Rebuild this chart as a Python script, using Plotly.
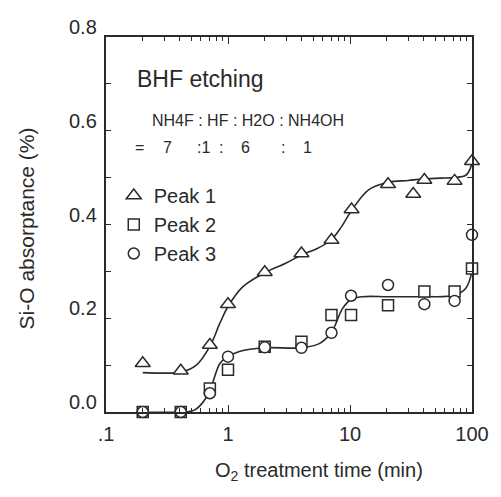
import plotly.graph_objects as go

# ---- data ----
time_pts = [0.2, 0.41, 0.71, 1.0, 2.0, 4.0, 7.05, 10.3, 20.5, 33.0, 40.7, 72.0, 100.0]
peak1 = [0.104, 0.088, 0.143, 0.230, 0.298, 0.338, 0.367, 0.432, 0.486, 0.465, 0.495, 0.493, 0.535]

time_pts23 = [0.2, 0.41, 0.71, 1.0, 2.0, 4.0, 7.05, 10.2, 20.5, 40.7, 72.0, 100.0]
peak2 = [0.0, 0.0, 0.050, 0.090, 0.139, 0.150, 0.207, 0.207, 0.228, 0.257, 0.257, 0.306]
peak3 = [0.0, 0.0, 0.040, 0.118, 0.138, 0.137, 0.169, 0.248, 0.271, 0.230, 0.237, 0.378]

# hand-drawn guide curves
curve1_t = [0.2, 0.3, 0.41, 0.55, 0.71, 0.86, 1.0, 1.32, 2.0, 3.0, 4.0, 5.5, 7.0, 8.5, 10.3, 14.2, 20.5, 30, 40, 55, 72, 89, 97, 100]
curve1_v = [0.084, 0.083, 0.085, 0.100, 0.140, 0.190, 0.225, 0.267, 0.297, 0.318, 0.335, 0.350, 0.367, 0.395, 0.430, 0.474, 0.490, 0.494, 0.497, 0.499, 0.500, 0.505, 0.520, 0.535]
curve2_t = [0.2, 0.41, 0.53, 0.62, 0.71, 0.86, 1.0, 1.24, 2.0, 4.0, 5.7, 7.05, 8.7, 10.2, 12.6, 20.5, 40.7, 72, 89, 100]
curve2_v = [0.0, 0.0, 0.004, 0.020, 0.045, 0.104, 0.118, 0.129, 0.137, 0.137, 0.147, 0.170, 0.221, 0.240, 0.246, 0.246, 0.246, 0.249, 0.264, 0.300]

x_major_ticks = [0.1, 1, 10, 100]
x_major_labels = [".1", "1", "10", "100"]
y_ticks = [0.0, 0.1, 0.2, 0.3, 0.4, 0.5, 0.6, 0.7, 0.8]
y_label_vals = [0.0, 0.2, 0.4, 0.6, 0.8]
y_label_text = ["0.0", "0.2", "0.4", "0.6", "0.8"]

ratio_names = ["=", "7", ":1", ":", "6", ":", "1"]
ratio_xpx = [141, 169, 206, 224, 250, 288, 314]

INK = "#2a2a2a"
FONT = "Liberation Sans, Arial, Helvetica, sans-serif"

L, R, T, B = 106, 18, 37, 85
W, H = 501, 497
PW, PH = W - L - R, H - T - B


def px2paper_x(px):
    return (px - L) / PW


def px2paper_y(py):
    return (H - B - py) / PH


fig = go.Figure()

fig.add_trace(go.Scatter(x=curve1_t, y=curve1_v, mode="lines", line=dict(color=INK, width=1.6, shape="spline", smoothing=1.0),
                         showlegend=False, hoverinfo="skip"))
fig.add_trace(go.Scatter(x=curve2_t, y=curve2_v, mode="lines", line=dict(color=INK, width=1.6, shape="spline", smoothing=1.0),
                         showlegend=False, hoverinfo="skip"))

fig.add_trace(go.Scatter(x=time_pts, y=peak1, mode="markers", name="Peak 1", cliponaxis=False,
                         marker=dict(symbol="triangle-up", size=13, color="white", line=dict(color=INK, width=1.5))))
fig.add_trace(go.Scatter(x=time_pts23, y=peak2, mode="markers", name="Peak 2", cliponaxis=False,
                         marker=dict(symbol="square", size=11, color="white", line=dict(color=INK, width=1.5))))
fig.add_trace(go.Scatter(x=time_pts23, y=peak3, mode="markers", name="Peak 3", cliponaxis=False,
                         marker=dict(symbol="circle", size=11, color="white", line=dict(color=INK, width=1.5))))

minor_x = [m * 10 ** k for k in (-1, 0, 1) for m in range(2, 10)]

fig.update_xaxes(type="log", range=[-1, 2], showline=True, linecolor=INK, linewidth=1.6, mirror="ticks",
                 ticks="inside", ticklen=7, tickwidth=1.2, tickcolor=INK,
                 tickvals=x_major_ticks, ticktext=x_major_labels, ticklabelstandoff=3,
                 tickfont=dict(family=FONT, size=20, color=INK),
                 minor=dict(tickvals=minor_x, ticks="inside", ticklen=4, tickwidth=1.2, tickcolor=INK),
                 showgrid=False, zeroline=False)
fig.update_yaxes(range=[0, 0.8], showline=True, linecolor=INK, linewidth=1.6, mirror="ticks",
                 ticks="inside", ticklen=5, tickwidth=1.2, tickcolor=INK,
                 tickvals=y_ticks, showticklabels=False, showgrid=False, zeroline=False)

ann = []
for v, t in zip(y_label_vals, y_label_text):
    ann.append(dict(x=0, xref="paper", y=v, yref="y", text=t, showarrow=False, xanchor="right", yanchor="middle",
                    xshift=-7, yshift=10, font=dict(family=FONT, size=20, color=INK)))

ann.append(dict(x=px2paper_x(24), y=px2paper_y(228), xref="paper", yref="paper", text="Si-O absorptance (%)",
                textangle=-90, showarrow=False, xanchor="center", yanchor="middle",
                font=dict(family=FONT, size=21, color=INK)))
ann.append(dict(x=px2paper_x(325), y=px2paper_y(472), xref="paper", yref="paper",
                text="O<sub>2</sub> treatment time (min)", showarrow=False, xanchor="center", yanchor="middle",
                font=dict(family=FONT, size=20, color=INK)))
ann.append(dict(x=px2paper_x(136), y=px2paper_y(79), xref="paper", yref="paper", text="BHF etching",
                xanchor="left", yanchor="middle", showarrow=False, font=dict(family=FONT, size=23, color=INK)))
ann.append(dict(x=px2paper_x(151), y=px2paper_y(120), xref="paper", yref="paper",
                text="NH4F : HF : H2O : NH4OH", xanchor="left", yanchor="middle", showarrow=False,
                font=dict(family=FONT, size=16, color=INK)))
for txt, xp in zip(ratio_names, ratio_xpx):
    ann.append(dict(x=px2paper_x(xp), y=px2paper_y(147), xref="paper", yref="paper", text=txt,
                    xanchor="center", yanchor="middle",
                    showarrow=False, font=dict(family=FONT, size=16, color=INK)))

fig.update_layout(
    width=W, height=H, margin=dict(l=L, r=R, t=T, b=B),
    paper_bgcolor="white", plot_bgcolor="white",
    annotations=ann,
    legend=dict(x=px2paper_x(114), y=px2paper_y(176), xanchor="left", yanchor="top",
                bgcolor="rgba(0,0,0,0)", font=dict(family=FONT, size=20, color=INK),
                itemwidth=30, tracegroupgap=0),
)

fig.write_html("out.html")
